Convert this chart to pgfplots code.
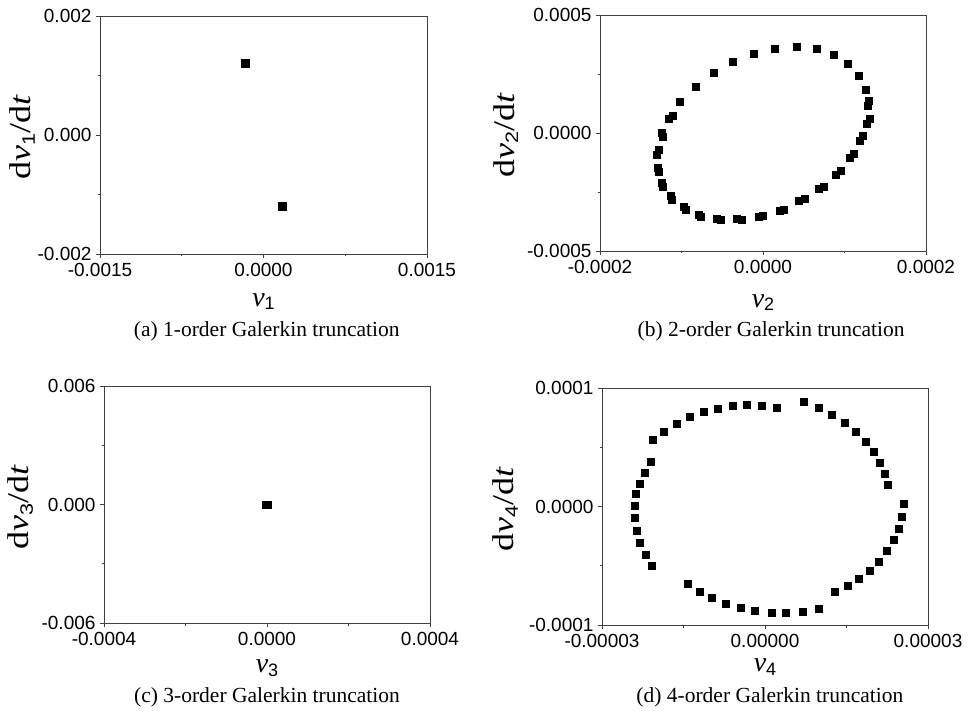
\documentclass[border=0pt]{standalone}
\usepackage{fontspec}
\setmainfont{Liberation Serif}
\setsansfont{Liberation Sans}
\usepackage{pgfplots}
\pgfplotsset{compat=1.18}
\newcommand{\sub}[1]{\raisebox{-0.28ex}{\sffamily\fontsize{18}{18}\selectfont #1}}
\newcommand{\yl}[1]{\scalebox{1.2}[1]{\fontsize{30}{30}\selectfont d\textit{v}\sub{#1}/d\textit{t}}}
\pgfplotsset{
  phase/.style={
    scale only axis,
    scaled ticks=false,
    clip=false,
    tick pos=left,
    tick align=outside,
    major tick length=4pt,
    minor tick length=2.5pt,
    axis line style={draw=black!75, line width=0.9pt},
    every tick/.style={black!75, line width=0.9pt},
    ticklabel style={font=\sffamily\fontsize{19}{19}\selectfont},
    xticklabel style={yshift=-2pt},
    yticklabel style={xshift=-1pt},
    label style={font=\fontsize{28}{28}\selectfont},
  },
  pts/.style={only marks, mark=square*, mark size=3.5pt, black, mark options={draw=none}},
}
\tikzset{capt/.style={font=\fontsize{21.5}{21.5}\selectfont, anchor=center}}
\begin{document}
\begin{tikzpicture}
\path[use as bounding box] (0,0) rectangle (968pt,-711pt);
% (a)
\begin{axis}[phase, at={(100pt,-16pt)}, anchor=north west,
  width=327pt, height=238pt,
  xmin=-0.0015, xmax=0.0015, ymin=-0.002, ymax=0.002,
  xtick={-0.0015,0,0.0015}, xticklabels={-0.0015,0.0000,0.0015},
  minor xtick={-0.00075,0.00075},
  ytick={-0.002,0,0.002}, yticklabels={-0.002,0.000,0.002},
  minor ytick={-0.001,0.001},
  xlabel={\textit{v}\sub{1}}, ylabel={\yl{1}},
  xlabel style={at={(axis description cs:0.5,-0.2)}, anchor=center},
  ylabel style={at={(axis description cs:-0.237,0.49)}, anchor=center},
]
\addplot[pts, mark size=4pt] coordinates {(-0.00017,0.0012) (0.00017,-0.0012)};
\node[capt] at (axis description cs:0.51,-0.325) {(a) 1-order Galerkin truncation};
\end{axis}
% (b)
\begin{axis}[phase, at={(600pt,-15pt)}, anchor=north west,
  width=326pt, height=236pt,
  xmin=-0.0002, xmax=0.0002, ymin=-0.0005, ymax=0.0005,
  xtick={-0.0002,0,0.0002}, xticklabels={-0.0002,0.0000,0.0002},
  minor xtick={-0.0001,0.0001},
  ytick={-0.0005,0,0.0005}, yticklabels={-0.0005,0.0000,0.0005},
  minor ytick={-0.00025,0.00025},
  xlabel={\textit{v}\sub{2}}, ylabel={\yl{2}},
  xlabel style={at={(axis description cs:0.5,-0.218)}, anchor=center},
  ylabel style={at={(axis description cs:-0.289,0.49)}, anchor=center},
]
\addplot[pts] coordinates {
(-0.608e-4,2.567e-4) (-0.366e-4,3.006e-4) (-0.109e-4,3.373e-4) (0.145e-4,3.571e-4)
(0.411e-4,3.642e-4) (0.653e-4,3.557e-4) (0.866e-4,3.317e-4) (1.042e-4,2.935e-4)
(1.173e-4,2.426e-4) (1.255e-4,1.818e-4) (1.300e-4,1.351e-4) (1.284e-4,1.139e-4)
(1.304e-4,0.615e-4) (1.267e-4,0.375e-4) (1.226e-4,-0.134e-4) (1.185e-4,-0.332e-4)
(1.116e-4,-0.870e-4) (1.058e-4,-1.040e-4) (0.948e-4,-1.605e-4) (0.890e-4,-1.747e-4)
(0.743e-4,-2.256e-4) (0.682e-4,-2.369e-4) (0.506e-4,-2.779e-4) (0.440e-4,-2.850e-4)
(0.260e-4,-3.232e-4) (0.199e-4,-3.289e-4) (0.002e-4,-3.501e-4) (-0.055e-4,-3.529e-4)
(-0.256e-4,-3.670e-4) (-0.321e-4,-3.642e-4) (-0.518e-4,-3.685e-4) (-0.567e-4,-3.628e-4)
(-0.764e-4,-3.529e-4) (-0.792e-4,-3.458e-4) (-0.948e-4,-3.232e-4) (-0.976e-4,-3.133e-4)
(-1.116e-4,-2.808e-4) (-1.136e-4,-2.638e-4) (-1.226e-4,-2.284e-4) (-1.238e-4,-2.115e-4)
(-1.284e-4,-1.620e-4) (-1.288e-4,-1.478e-4) (-1.300e-4,-0.912e-4) (-1.284e-4,-0.728e-4)
(-1.234e-4,-0.163e-4) (-1.243e-4,0.007e-4) (-1.157e-4,0.615e-4) (-1.107e-4,0.743e-4)
(-1.017e-4,1.322e-4) (-0.825e-4,1.959e-4)
};
\node[capt] at (axis description cs:0.525,-0.34) {(b) 2-order Galerkin truncation};
\end{axis}
% (c)
\begin{axis}[phase, at={(104pt,-386pt)}, anchor=north west,
  width=326pt, height=237pt,
  xmin=-0.0004, xmax=0.0004, ymin=-0.006, ymax=0.006,
  xtick={-0.0004,0,0.0004}, xticklabels={-0.0004,0.0000,0.0004},
  minor xtick={-0.0002,0.0002},
  ytick={-0.006,0,0.006}, yticklabels={-0.006,0.000,0.006},
  minor ytick={-0.003,0.003},
  xlabel={\textit{v}\sub{3}}, ylabel={\yl{3}},
  xlabel style={at={(axis description cs:0.5,-0.19)}, anchor=center},
  ylabel style={at={(axis description cs:-0.256,0.49)}, anchor=center},
]
\addplot[pts] coordinates {(-0.0000025,0) (0.0000025,0)};
\node[capt] at (axis description cs:0.5,-0.315) {(c) 3-order Galerkin truncation};
\end{axis}
% (d)
\begin{axis}[phase, at={(602pt,-388pt)}, anchor=north west,
  width=326pt, height=237pt,
  xmin=-0.00003, xmax=0.00003, ymin=-0.0001, ymax=0.0001,
  xtick={-0.00003,0,0.00003}, xticklabels={-0.00003,0.00000,0.00003},
  minor xtick={-0.000015,0.000015},
  ytick={-0.0001,0,0.0001}, yticklabels={-0.0001,0.0000,0.0001},
  minor ytick={-0.00005,0.00005},
  xlabel={\textit{v}\sub{4}}, ylabel={\yl{4}},
  xlabel style={at={(axis description cs:0.5,-0.178)}, anchor=center},
  ylabel style={at={(axis description cs:-0.296,0.49)}, anchor=center},
]
\addplot[pts] coordinates {
(-2.067e-5,5.618e-5) (-1.858e-5,6.320e-5) (-1.624e-5,7.022e-5) (-1.391e-5,7.556e-5)
(-1.133e-5,7.978e-5) (-0.869e-5,8.287e-5) (-0.599e-5,8.511e-5) (-0.329e-5,8.567e-5)
(-0.052e-5,8.539e-5) (0.224e-5,8.371e-5) (0.716e-5,8.820e-5) (0.986e-5,8.343e-5)
(1.231e-5,7.753e-5) (1.465e-5,7.079e-5) (1.667e-5,6.320e-5) (1.846e-5,5.506e-5)
(1.993e-5,4.635e-5) (2.110e-5,3.708e-5) (2.202e-5,2.781e-5) (2.257e-5,1.798e-5)
(2.546e-5,0.253e-5) (2.521e-5,-0.843e-5) (2.460e-5,-1.854e-5) (2.374e-5,-2.837e-5)
(2.245e-5,-3.764e-5) (2.091e-5,-4.635e-5) (1.919e-5,-5.393e-5) (1.723e-5,-6.096e-5)
(1.514e-5,-6.657e-5) (1.281e-5,-7.191e-5) (0.980e-5,-8.652e-5) (0.691e-5,-8.848e-5)
(0.390e-5,-8.961e-5) (0.114e-5,-8.989e-5) (-0.181e-5,-8.792e-5) (-0.451e-5,-8.567e-5)
(-0.715e-5,-8.174e-5) (-0.973e-5,-7.725e-5) (-1.207e-5,-7.163e-5) (-1.416e-5,-6.545e-5)
(-2.079e-5,-5.000e-5) (-2.202e-5,-4.045e-5) (-2.306e-5,-3.034e-5) (-2.367e-5,-2.022e-5)
(-2.404e-5,-0.983e-5) (-2.404e-5,0.028e-5) (-2.374e-5,1.039e-5) (-2.312e-5,1.966e-5)
(-2.220e-5,2.893e-5) (-2.103e-5,3.792e-5)
};
\node[capt] at (axis description cs:0.515,-0.305) {(d) 4-order Galerkin truncation};
\end{axis}
\end{tikzpicture}
\end{document}
